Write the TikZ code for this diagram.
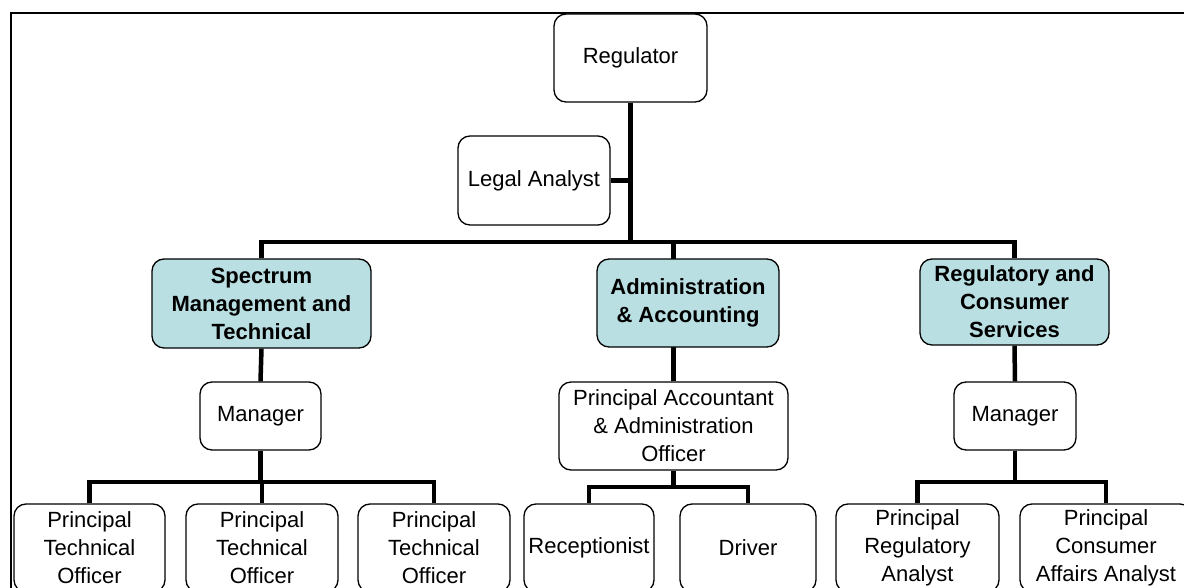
\documentclass[tikz,border=0pt]{standalone}
\usepackage{fontspec}
\setmainfont{Liberation Sans}
\usetikzlibrary{backgrounds}
\definecolor{deptblue}{RGB}{185,223,226}
\begin{document}
\begin{tikzpicture}[x=1pt,y=-1pt,
  box/.style={draw=black,line width=1.3pt,rounded corners=12pt,fill=white,
    inner sep=0pt,align=center,font=\fontsize{22}{28}\selectfont},
  dept/.style={box,fill=deptblue,font=\fontsize{22}{28}\selectfont\bfseries},
  conn/.style={draw=black,line width=4.5pt,line join=miter}]
\useasboundingbox (0,0) rectangle (1184,588);
\clip (0,0) rectangle (1184,588);
\draw[line width=2pt] (11,13) rectangle (1194,600);
% nodes
\node[box,minimum width=153pt,minimum height=88pt] (reg) at (630.5,58) {Regulator};
\node[box,minimum width=152pt,minimum height=89pt] (legal) at (534,180.5) {Legal Analyst};
\node[dept,minimum width=219pt,minimum height=89pt] (spec) at (261.5,303.5) {Spectrum\\Management and\\Technical};
\node[dept,minimum width=182pt,minimum height=88pt] (admin) at (688,303) {Administration\\\& Accounting};
\node[dept,minimum width=189pt,minimum height=86pt] (regc) at (1014.5,302) {Regulatory and\\Consumer\\Services};
\node[box,minimum width=121pt,minimum height=68pt] (man1) at (260.5,416) {Manager};
\node[box,minimum width=229pt,minimum height=88pt] (pa) at (673.5,426) {Principal Accountant\\\& Administration\\Officer};
\node[box,minimum width=122pt,minimum height=68pt] (man2) at (1015,416) {Manager};
\node[box,minimum width=151pt,minimum height=88pt] (pto1) at (89.5,548) {Principal\\Technical\\Officer};
\node[box,minimum width=152pt,minimum height=88pt] (pto2) at (262,548) {Principal\\Technical\\Officer};
\node[box,minimum width=152pt,minimum height=88pt] (pto3) at (434,548) {Principal\\Technical\\Officer};
\node[box,minimum width=130pt,minimum height=88pt] (rec) at (589,548) {Receptionist};
\node[box,minimum width=136pt,minimum height=88pt] (drv) at (748,548) {Driver};
\node[box,minimum width=163pt,minimum height=88pt] (pra) at (917.5,548) {Principal\\Regulatory\\Analyst};
\node[box,minimum width=172pt,minimum height=88pt] (pca) at (1106,548) {Principal\\Consumer\\Affairs Analyst};
% bus points
\coordinate (b1) at (630.5,242);
\coordinate (b2) at (260.5,482);
\coordinate (b3) at (673.5,487);
\coordinate (b4) at (1015,482);
\begin{pgfonlayer}{background}
\draw[conn] (reg.south) -- (b1);
\draw[conn] (legal.east) -- (legal.east -| reg.south);
\draw[conn] (spec.north) |- (b1) -| (regc.north);
\draw[conn] (pa.north) -- (pa.north |- b1);
\draw[conn] (spec.south) -- (man1.north);
\draw[conn] (man1.south) -- (b2);
\draw[conn] (pto1.north) |- (b2) -| (pto3.north);
\draw[conn] (pto2.north) -- (pto2.north |- b2);
\draw[conn] (pa.south) -- (b3);
\draw[conn] (rec.north) |- (b3) -| (drv.north);
\draw[conn] (regc.south) -- (man2.north);
\draw[conn] (man2.south) -- (b4);
\draw[conn] (pra.north) |- (b4) -| (pca.north);
\end{pgfonlayer}
\end{tikzpicture}
\end{document}
